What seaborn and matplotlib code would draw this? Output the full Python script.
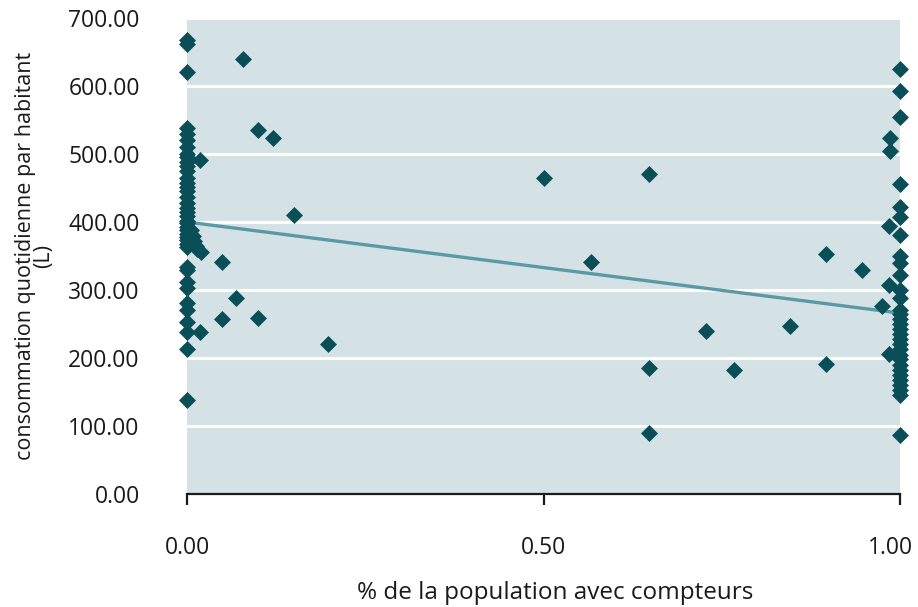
import matplotlib
matplotlib.use("Agg")
import matplotlib.pyplot as plt
import matplotlib.transforms as mtransforms
import seaborn as sns
import pandas as pd

# ---- data ----
x_zero_y = [668, 662, 620, 538, 530, 520, 510, 500, 495, 488, 482, 475, 465, 458,
            452, 445, 437, 428, 420, 415, 409, 402, 398, 393, 388, 383, 378, 373,
            368, 363, 334, 329, 312, 303, 281, 271, 253, 238, 213, 138]
near_zero_x = [0.008, 0.010, 0.012, 0.020, 0.018, 0.018, 0.006, 0.014]
near_zero_y = [380, 372, 365, 356, 491, 238, 388, 360]
mid_x = [0.079, 0.10, 0.12, 0.15, 0.049, 0.069, 0.049, 0.10, 0.198,
         0.50, 0.567, 0.648, 0.648, 0.648, 0.728, 0.767, 0.846, 0.896, 0.896, 0.947]
mid_y = [640, 535, 524, 410, 341, 288, 257, 259, 221,
         465, 341, 471, 186, 89, 240, 182, 247, 353, 191, 330]
x_one_y = [625, 593, 555, 456, 422, 408, 381, 350, 340, 322, 300, 288, 270, 265,
           258, 250, 242, 235, 228, 220, 213, 205, 198, 190, 183, 175, 168, 160,
           153, 145, 87]
near_one_x = [0.986, 0.986, 0.985, 0.985, 0.975, 0.985]
near_one_y = [523, 505, 394, 307, 276, 206]
trend_x = [0.0, 1.0]
trend_y = [400, 266]

xticks = [0.0, 0.5, 1.0]
xtick_labels = ["0.00", "0.50", "1.00"]
yticks = [0, 100, 200, 300, 400, 500, 600, 700]
ytick_labels = ["0.00", "100.00", "200.00", "300.00", "400.00", "500.00", "600.00", "700.00"]

xs = [0.0] * len(x_zero_y) + near_zero_x + mid_x + [1.0] * len(x_one_y) + near_one_x
ys = x_zero_y + near_zero_y + mid_y + x_one_y + near_one_y
df = pd.DataFrame({"x": xs, "y": ys})
trend = pd.DataFrame({"x": trend_x, "y": trend_y})

sns.set_theme(style="white")
plt.rcParams["font.family"] = ["Open Sans", "DejaVu Sans"]

fig = plt.figure(figsize=(9.18, 6.07), dpi=100)
ax = fig.add_axes([187 / 918, 1 - 494 / 607, 713 / 918, 476 / 607])
ax.set_facecolor("#d4e2e6")

marker_color = "#0a4f57"
line_color = "#5b9aa4"

sns.lineplot(data=trend, x="x", y="y", ax=ax, color=line_color, linewidth=2.4, zorder=3)
sns.scatterplot(data=df, x="x", y="y", ax=ax, marker="D", s=75, color=marker_color,
                linewidth=0, zorder=4, clip_on=False)

ax.set_xlim(0, 1)
ax.set_ylim(0, 700)
ax.set_yticks(yticks)
ax.set_yticklabels(ytick_labels)
ax.set_xticks(xticks)
ax.set_xticklabels(xtick_labels)

ax.yaxis.grid(True, color="white", linewidth=2.2)
ax.xaxis.grid(False)
ax.set_axisbelow(True)

for side in ["top", "right", "left"]:
    ax.spines[side].set_visible(False)
ax.spines["bottom"].set_visible(True)
ax.spines["bottom"].set_color("#1a1a1a")
ax.spines["bottom"].set_linewidth(1.6)
ax.spines["bottom"].set_zorder(5)

ax.tick_params(axis="y", length=0, pad=34, labelsize=16.5, labelcolor="#1a1a1a")
ax.tick_params(axis="x", direction="out", length=8, width=1.6, color="#1a1a1a",
               pad=22, labelsize=16.5, labelcolor="#1a1a1a", bottom=True)

# shift the last x tick label left so it stays inside the figure, as in the reference
last = ax.get_xticklabels()[-1]
last.set_transform(last.get_transform() + mtransforms.ScaledTranslation(-10 / 100, 0, fig.dpi_scale_trans))

ax.set_xlabel("% de la population avec compteurs", fontsize=17.5, color="#1a1a1a")
ax.xaxis.set_label_coords(0.516, -0.208, transform=ax.transAxes)
ax.xaxis.label.set_va("center")
ax.set_ylabel("consommation quotidienne par habitant\n(L)", fontsize=15.5, color="#1a1a1a",
              labelpad=10, multialignment="center", linespacing=0.85)

fig.savefig("out.png", dpi=100)
